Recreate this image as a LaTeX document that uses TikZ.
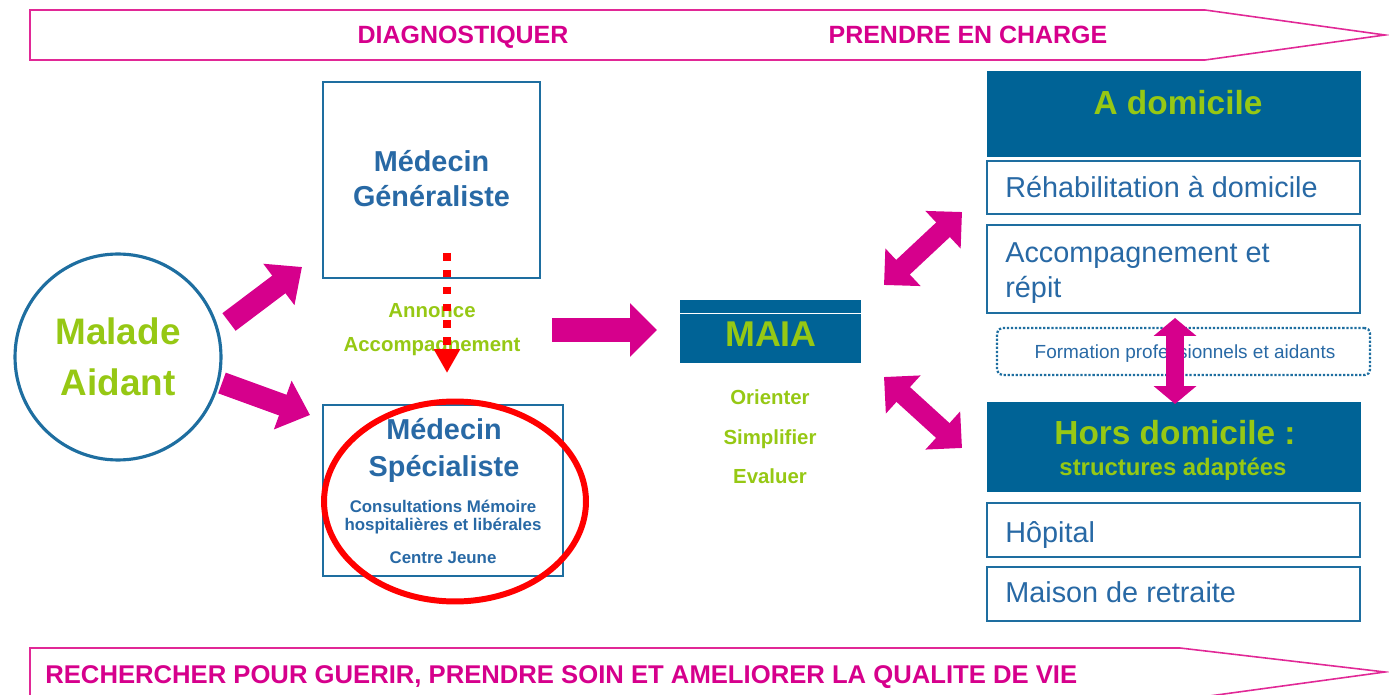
\documentclass[tikz,border=0pt]{standalone}
\usepackage{fontspec}
\setmainfont{Liberation Sans}
\usetikzlibrary{arrows.meta,shapes.geometric}
\definecolor{pinkc}{RGB}{214,0,140}
\definecolor{bannerc}{RGB}{225,40,150}
\definecolor{fillb}{RGB}{0,99,150}
\definecolor{bordb}{RGB}{30,110,160}
\definecolor{txtb}{RGB}{40,105,165}
\definecolor{grn}{RGB}{150,200,20}
\begin{document}
\begin{tikzpicture}[x=0.02cm,y=-0.02cm,
  bannertxt/.style={text=pinkc, font=\bfseries\fontsize{14.2}{16}\selectfont, anchor=base, inner sep=0},
  bluebox/.style={draw=bordb, line width=1.4pt, inner sep=0, fill=white},
  hdrbox/.style={draw=fillb, fill=fillb, inner sep=0, line width=0.6pt},
  bigblue/.style={text=txtb, font=\bfseries\fontsize{16.4}{19}\selectfont, anchor=base, inner sep=0},
  smallblue/.style={text=txtb, font=\bfseries\fontsize{9.6}{10}\selectfont, anchor=base, inner sep=0},
  greentxt/.style={text=grn, font=\bfseries\fontsize{11.6}{13}\selectfont, anchor=base, inner sep=0},
  itemtxt/.style={text=txtb, font=\fontsize{16.4}{19.8}\selectfont, anchor=base west, inner sep=0},
  blk/.style={draw=pinkc, line width=0.44cm, -{Triangle[length=0.58cm,width=1.0cm]}},
  dblk/.style={draw=pinkc, line width=0.40cm, {Triangle[length=0.52cm,width=1.0cm]}-{Triangle[length=0.52cm,width=1.0cm]}}
]
\useasboundingbox (0,0) rectangle (1389,695);
\clip (0,0) rectangle (1389,695);

% banners
\draw[bannerc, line width=0.9pt] (30,10) -- (1205,10) -- (1385,35) -- (1205,60) -- (30,60) -- cycle;
\node[bannertxt] (diag) at (463,44) {DIAGNOSTIQUER};
\node[bannertxt] (prendre) at (968,44) {PRENDRE EN CHARGE};
\draw[bannerc, line width=0.9pt] (1180,648) -- (30,648) -- (30,700) -- (1180,700) -- (1385,672) -- cycle;
\node[bannertxt, anchor=base west, font=\bfseries\fontsize{14.6}{16}\selectfont] (rech) at (45,683) {RECHERCHER POUR GUERIR, PRENDRE SOIN ET AMELIORER LA QUALITE DE VIE};

% patient circle
\node[circle, draw=bordb, line width=1.8pt, minimum size=4.12cm, inner sep=0] (mal) at (118,357) {};
\node[text=grn, font=\bfseries\fontsize{21}{24}\selectfont, anchor=base, inner sep=0] (mal1) at (118,345) {Malade};
\node[text=grn, font=\bfseries\fontsize{21}{24}\selectfont, anchor=base, inner sep=0] (mal2) at (118,396) {Aidant};

% medecin generaliste
\node[bluebox, minimum width=4.34cm, minimum height=3.92cm] (mg) at (431.5,180) {};
\node[bigblue] (mg1) at (431.5,172) {Médecin};
\node[bigblue] (mg2) at (431.5,207) {Généraliste};

\node[greentxt] (ann1) at (432,318) {Annonce};
\node[greentxt] (ann2) at (432,352) {Accompagnement};

% medecin specialiste
\node[bluebox, minimum width=4.8cm, minimum height=3.42cm] (ms) at (443,490.5) {};
\node[bigblue] (ms1) at (444,440) {Médecin};
\node[bigblue] (ms2) at (444,477) {Spécialiste};
\node[smallblue] (ms3) at (443,513) {Consultations Mémoire};
\node[smallblue] (ms4) at (443,530) {hospitalières et libérales};
\node[smallblue] (ms5) at (443,563) {Centre Jeune};

% red dotted arrow
\coordinate (rs) at (447,253);
\coordinate (re) at (447,373);
\draw[red, line width=4.5pt, dash pattern=on 4.3pt off 5.3pt, -{Triangle[length=0.48cm,width=0.5cm]}] (rs) -- (re);

% red ellipse
\node[ellipse, draw=red, line width=3.4pt, minimum width=5.24cm, minimum height=4.0cm, inner sep=0] (ring) at (455,501.5) {};

% MAIA
\node[hdrbox, minimum width=3.6cm, minimum height=1.24cm] (maia) at (770,331.5) {};
\draw[white, line width=0.5pt] (maia.west |- 0,313) -- (maia.east |- 0,313);
\node[text=grn, font=\bfseries\fontsize{20.4}{24}\selectfont, anchor=base, inner sep=0] (maiat) at (771,347) {MAIA};
\node[greentxt] (or) at (770,405) {Orienter};
\node[greentxt] (si) at (770,445) {Simplifier};
\node[greentxt] (ev) at (770,483) {Evaluer};

% right column
\node[hdrbox, minimum width=7.46cm, minimum height=1.68cm] (dom) at (1173.5,114) {};
\node[text=grn, font=\bfseries\fontsize{19}{22}\selectfont, anchor=base, inner sep=0] (domt) at (1178,115) {A domicile};
\node[bluebox, minimum width=7.46cm, minimum height=1.06cm] (reh) at (1173.5,187.5) {};
\node[itemtxt] (reht) at (1005,198) {Réhabilitation à domicile};
\node[bluebox, minimum width=7.46cm, minimum height=1.76cm] (acc) at (1173.5,269) {};
\node[itemtxt] (acct1) at (1005,263) {Accompagnement et};
\node[itemtxt] (acct2) at (1005,298) {répit};
\node[draw=bordb, densely dotted, line width=1.3pt, rounded corners=3pt, minimum width=7.46cm, minimum height=0.94cm, inner sep=0] (form) at (1183.5,351.5) {};
\node[text=txtb, font=\fontsize{10.8}{12}\selectfont, anchor=base, inner sep=0] (formt) at (1185,359) {Formation professionnels et aidants};
\node[hdrbox, minimum width=7.46cm, minimum height=1.76cm] (hors) at (1173.5,447) {};
\node[text=grn, font=\bfseries\fontsize{19}{22}\selectfont, anchor=base, inner sep=0] (hors1) at (1175,445) {Hors domicile :};
\node[text=grn, font=\bfseries\fontsize{13.6}{16}\selectfont, anchor=base, inner sep=0] (hors2) at (1173,476) {structures adaptées};
\node[bluebox, minimum width=7.46cm, minimum height=1.08cm] (hop) at (1173.5,530) {};
\node[itemtxt] (hopt) at (1005,542) {Hôpital};
\node[bluebox, minimum width=7.46cm, minimum height=1.08cm] (mai) at (1173.5,594) {};
\node[itemtxt] (mait) at (1005,602) {Maison de retraite};

% pink block arrows
\coordinate (a1s) at (229,322); \coordinate (a1e) at (302,267);
\coordinate (a2s) at (222,383); \coordinate (a2e) at (310,415);
\coordinate (a3s) at (552,330); \coordinate (a3e) at (657,330);
\draw[blk] (a1s) -- (a1e);
\draw[blk] (a2s) -- (a2e);
\draw[draw=pinkc, line width=0.48cm, -{Triangle[length=0.54cm,width=1.04cm]}] (a3s) -- (a3e);
\coordinate (d1a) at (884,285); \coordinate (d1b) at (962,212);
\coordinate (d2a) at (884,377); \coordinate (d2b) at (962,448);
\draw[dblk] (d1a) -- (d1b);
\draw[dblk] (d2a) -- (d2b);
\coordinate (v1) at (1175,318); \coordinate (v2) at (1175,404);
\draw[draw=pinkc, line width=0.36cm, {Triangle[length=0.36cm,width=0.84cm]}-{Triangle[length=0.36cm,width=0.84cm]}] (v1) -- (v2);
\end{tikzpicture}
\end{document}
